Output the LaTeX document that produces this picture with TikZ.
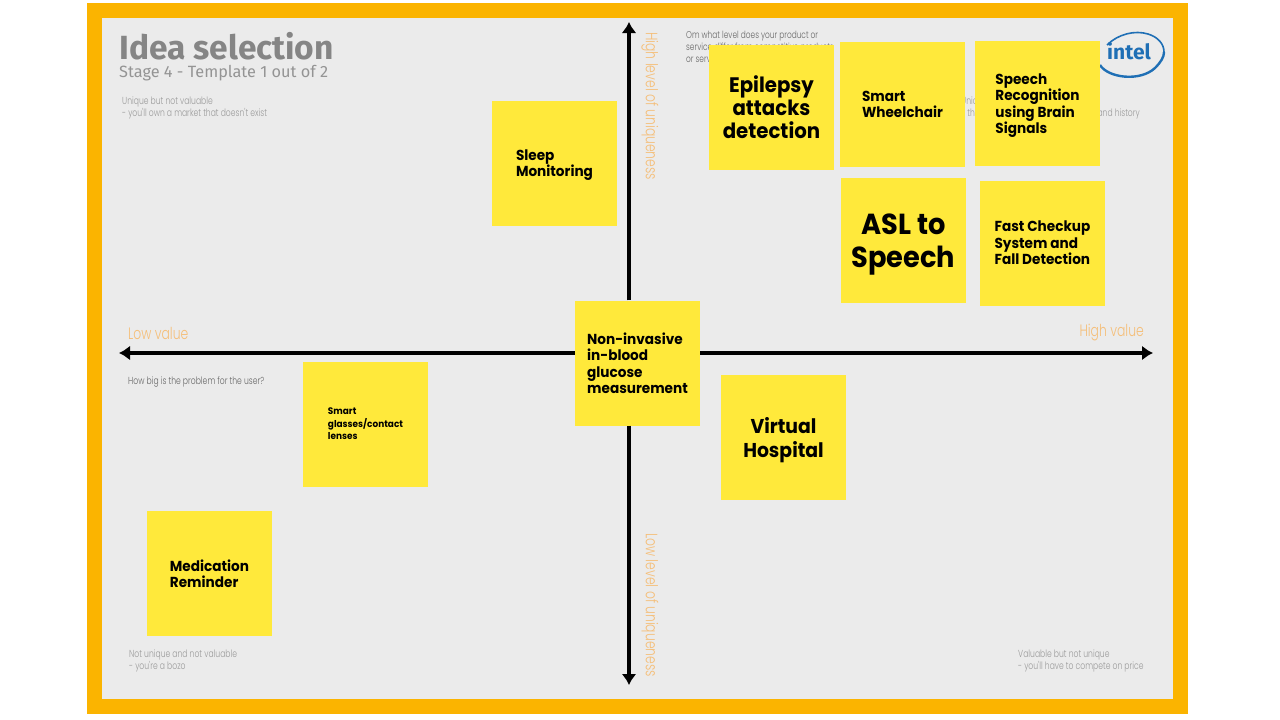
\documentclass[tikz,border=0pt]{standalone}
\usepackage{fontspec}
\setmainfont{Lato}
\newfontfamily\notefont{Poppins}[FakeStretch=0.94]
\newfontfamily\handfont{Poppins Light}[FakeStretch=0.75]
\newfontfamily\headfont{Fira Sans}
\usetikzlibrary{arrows.meta}
\definecolor{frameorange}{HTML}{FBB400}
\definecolor{boardgray}{HTML}{EBEBEB}
\definecolor{noteyellow}{HTML}{FFE93B}
\definecolor{axislabel}{HTML}{F5BE78}
\definecolor{hintgray}{HTML}{9A9A9A}
\definecolor{intelblue}{HTML}{1F6FB5}
\tikzset{
  stickynote/.style n args={2}{fill=noteyellow,minimum width=125pt,minimum height=125pt,inner sep=0pt,text depth=0pt,align=left,font=\notefont\bfseries\fontsize{#1}{#2}\selectfont},
  hint/.style={anchor=west,inner sep=0pt,align=left,text=hintgray,font=\handfont\fontsize{10.2}{12}\selectfont},
  axisname/.style={inner sep=0pt,text=axislabel,font=\handfont\fontsize{16.5}{20}\selectfont},
  axisline/.style={line width=3.2pt,-{Latex[length=11pt,width=15pt]}}
}
\begin{document}
\begin{tikzpicture}[x=1pt,y=-1pt]
  \useasboundingbox (0,0) rectangle (1280,720);
  \fill[frameorange] (87,3) rectangle (1188,714);
  \fill[boardgray] (102,18) rectangle (1173,699);

  \node[anchor=west,inner sep=0pt,text=black!48,font=\headfont\bfseries\fontsize{33.5}{36}\selectfont] (title) at (119,46.5) {Idea selection};
  \node[anchor=west,inner sep=0pt,text=black!42,font=\headfont\fontsize{16.3}{20}\selectfont] (stage) at (119,73) {Stage 4 - Template 1 out of 2};

  \node[hint] (topleft) at (122,107.5) {Unique but not valuable\\- you'll own a market that doesn't exist};
  \node[hint,text=black!60] (problem) at (128,382.5) {How big is the problem for the user?};
  \node[hint] (botleft) at (129,661) {Not unique and not valuable\\- you're a bozo};
  \node[hint] (botright) at (1018,661) {Valuable but not unique\\- you'll have to compete on price};
  \node[hint,text=black!60,font=\handfont\fontsize{9.9}{12}\selectfont] (question) at (686,47) {Om what level does your product or\\service differ from competitive products\\or services?};
  \node[hint] (topright) at (961,107.5) {Unique and valuable\\- this is where you will make money and history};

  % logo
  \draw[intelblue,line width=2.4pt] (1100,65) .. controls (1108,78) and (1140,82) .. (1155,68) .. controls (1161,62) and (1164,57) .. (1164,52);
  \draw[intelblue,line width=1.6pt] (1107,45) .. controls (1118,34) and (1135,30) .. (1148,34) .. controls (1158,37) and (1164,44) .. (1164,52);
  \node[inner sep=0pt,text=intelblue,font=\headfont\bfseries\fontsize{21}{24}\selectfont] (logo) at (1129,51) {intel};

  \node[axisname,anchor=west] (lowvalue) at (128,333) {Low value};
  \node[axisname,anchor=east] (highvalue) at (1144,333) {High value};
  \node[axisname,rotate=-90,anchor=west] (highunique) at (650,32) {High level of uniqueness};
  \node[axisname,rotate=-90,anchor=west] (lowunique) at (650,533) {Low level of uniqueness};

  \coordinate (leftend) at (119,353);
  \coordinate (rightend) at (1153,353);
  \coordinate (topend) at (629,22);
  \coordinate (botend) at (629,685);

  \node[stickynote={14.5}{16.5}] (glucose) at (637.5,363) {Non-invasive\\in-blood\\glucose\\measurement};
  \draw[axisline] (glucose.west |- leftend) -- (leftend);
  \draw[axisline] (glucose.east |- rightend) -- (rightend);
  \draw[axisline] (glucose.north -| topend) -- (topend);
  \draw[axisline] (glucose.south -| botend) -- (botend);

  \node[stickynote={14.5}{16.5}] (sleep) at (554.5,163) {Sleep\\Monitoring};
  \node[stickynote={21}{23},align=center] (epilepsy) at (771.5,107) {Epilepsy\\attacks\\detection};
  \node[stickynote={14.5}{16.5}] (wheelchair) at (902.5,104.5) {Smart\\Wheelchair};
  \node[stickynote={14.5}{16.5}] (speech) at (1037.5,103.5) {Speech\\Recognition\\using Brain\\Signals};
  \node[stickynote={29}{33},align=center] (asl) at (903.5,240.5) {ASL to\\Speech};
  \node[stickynote={14.5}{16.5}] (checkup) at (1042.5,243) {Fast Checkup\\System and\\Fall Detection};
  \node[stickynote={20}{24},align=center] (hospital) at (783.5,437) {Virtual\\Hospital};
  \node[stickynote={9.5}{12.5}] (glasses) at (365.5,424) {Smart\\glasses/contact\\lenses};
  \node[stickynote={14.5}{16.5}] (reminder) at (209.5,573.5) {Medication\\Reminder};
\end{tikzpicture}
\end{document}
